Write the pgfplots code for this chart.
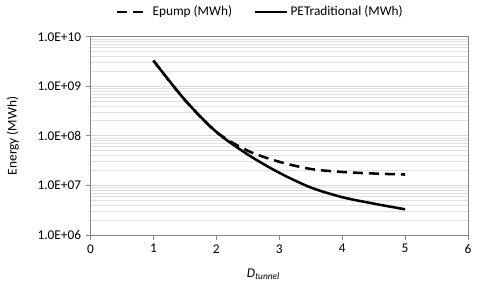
\documentclass[border=0pt]{standalone}
\usepackage{pgfplots}
\pgfplotsset{compat=1.18}
\usepackage{fontspec}
\setmainfont{Carlito}
\definecolor{axgray}{RGB}{134,134,134}
\definecolor{gridgray}{RGB}{217,217,217}
\begin{document}
\fontsize{10pt}{12pt}\selectfont
\begin{tikzpicture}
\path[use as bounding box] (0,0) rectangle (360pt,215.25pt);
\begin{axis}[
  at={(67.9pt,39pt)}, anchor=south west,
  scale only axis, width=283.1pt, height=148.7pt,
  xmin=0, xmax=6, ymode=log, ymin=1e6, ymax=1e10,
  xtick={0,1,2,3,4,5,6},
  ytick={1e6,1e7,1e8,1e9,1e10},
  yticklabels={1.0E+06,1.0E+07,1.0E+08,1.0E+09,1.0E+10},
  /pgf/number format/assume math mode=true,
  xticklabel style={font=\fontsize{10pt}{12pt}\selectfont},
  yticklabel style={font=\fontsize{10pt}{12pt}\selectfont},
  tick align=outside, major tick length=3.5pt, minor tick length=0pt,
  xtick pos=bottom, ytick pos=left,
  tick style={axgray, line width=0.6pt},
  axis line style={axgray, line width=0.7pt},
  ymajorgrids, yminorgrids,
  major grid style={gridgray, line width=0.7pt},
  minor grid style={gridgray!80, line width=0.7pt},
  xlabel={\textit{D}\textsubscript{\textit{tunnel}}},
  xlabel style={at={(axis description cs:0.458,-0.20)}, anchor=center, font=\fontsize{10pt}{12pt}\selectfont},
  ylabel={Energy (MWh)},
  ylabel style={at={(axis description cs:-0.2056,0.5)}, anchor=center, font=\fontsize{10pt}{12pt}\selectfont},
  legend columns=2,
  legend style={at={(0.45,1.1245)}, anchor=center, draw=none, fill=none,
    font=\fontsize{10pt}{12pt}\selectfont,
    /tikz/every even column/.append style={column sep=14pt}},
  legend image code/.code={\draw[#1] (0pt,0pt) -- (24pt,0pt);},
]
\addplot[black, line width=1.9pt, dash pattern=on 7.5pt off 4.5pt, smooth, tension=0.5] coordinates {
 (1,3.3e9) (1.5,5.3e8) (2,1.2e8) (2.5,5.0e7) (3,3.0e7) (3.5,2.15e7) (4,1.87e7) (4.5,1.74e7) (5,1.66e7)
};
\addlegendentry{Epump (MWh)}
\addplot[black, line width=1.9pt, smooth, tension=0.5] coordinates {
 (1,3.3e9) (1.5,5.3e8) (2,1.2e8) (2.5,4.2e7) (3,1.8e7) (3.5,9.1e6) (4,5.8e6) (4.5,4.3e6) (5,3.3e6)
};
\addlegendentry{PETraditional (MWh)}
\draw[axgray, line width=0.7pt] (rel axis cs:0,1) -- (rel axis cs:1,1) -- (rel axis cs:1,0);
\end{axis}
\end{tikzpicture}
\end{document}
